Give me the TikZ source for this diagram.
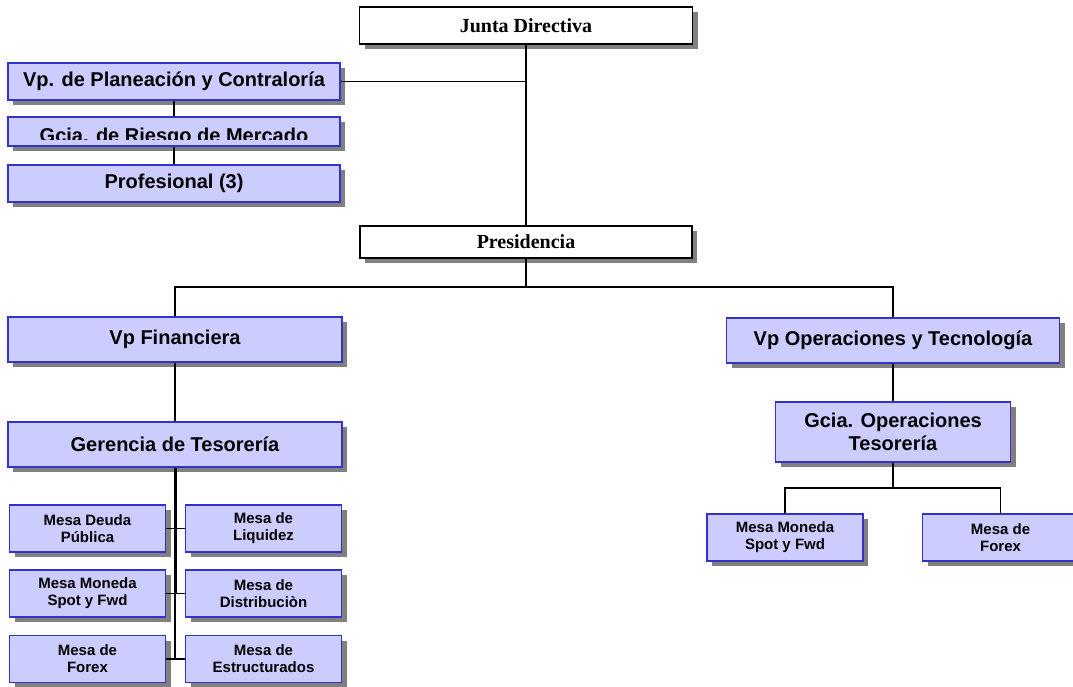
\documentclass[tikz,border=0pt]{standalone}
\usepackage{fontspec}
\setmainfont{Liberation Serif}
\setsansfont{Liberation Sans}
\usepackage{tikz}
\usepackage{xcolor}
\usetikzlibrary{positioning,shadows}

\definecolor{unitfill}{HTML}{CCCCFF}
\definecolor{unitline}{HTML}{3333CC}
\definecolor{shadowgray}{HTML}{808080}

\begin{document}
\begin{tikzpicture}[x=1pt,y=-1pt,
    sh/.style={drop shadow={shadow xshift=5pt, shadow yshift=-5pt, fill=shadowgray, opacity=1}},
    board/.style={rectangle, draw=black, fill=white, line width=1.4pt, sh, font=\rmfamily\bfseries\fontsize{20}{22}\selectfont},
    unit/.style={rectangle, draw=unitline, fill=unitfill, line width=1.5pt, sh, align=center, font=\sffamily\bfseries\fontsize{20}{23}\selectfont},
    desk/.style={unit, minimum width=156pt, minimum height=47pt, font=\sffamily\bfseries\fontsize{15}{17}\selectfont},
    link/.style={line width=1.5pt}]
        \useasboundingbox (0,0) rectangle (1073,686);

        % Top level
        \node[board, minimum width=333pt, minimum height=37pt] (junta) at (526,25.5) {Junta Directiva};
        \node[board, minimum width=332pt, minimum height=32pt] (pres) at (526,242) {Presidencia};

        % Planning branch
        \node[unit, minimum width=332pt, minimum height=37pt] (vpplan) at (174,81.5) {Vp. de Planeación y Contraloría};
        \node[unit, minimum width=332pt, minimum height=29pt] (riesgo) at (174,131.5) {};
        \begin{scope}
          \clip (10,118) rectangle (338,139.5);
          \node[anchor=base, font=\sffamily\bfseries\fontsize{20}{23}\selectfont] (riesgotxt) at (174,142.3) {Gcia. de Riesgo de Mercado};
        \end{scope}
        \node[unit, minimum width=332pt, minimum height=37pt] (prof) at (174,183.5) {Profesional (3)};

        % Vice presidencies
        \node[unit, minimum width=334pt, minimum height=45pt] (vpfin) at (175,339.5) {Vp Financiera};
        \node[unit, minimum width=334pt, minimum height=45pt] (geren) at (175,444.5) {Gerencia de Tesorería};
        \node[unit, minimum width=333pt, minimum height=45pt] (vpop) at (893,340.5) {Vp Operaciones y Tecnología};
        \node[unit, minimum width=235pt, minimum height=60pt] (gciaop) at (893,432) {Gcia. Operaciones\\Tesorería};

        % Treasury desks
        \node[desk] (deuda) at (87.5,528.5) {Mesa Deuda\\Pública};
        \node[desk] (liquidez) at (263.5,528.5) {Mesa de\\Liquidez};
        \node[desk] (moneda) at (87.5,593.5) {Mesa Moneda\\Spot y Fwd};
        \node[desk] (distrib) at (263.5,593.5) {Mesa de\\Distribuciòn};
        \node[desk] (forex) at (87.5,659) {Mesa de\\Forex};
        \node[desk] (estruct) at (263.5,659) {Mesa de\\Estructurados};

        % Operations desks
        \node[desk] (opmoneda) at (785,537.5) {Mesa Moneda\\Spot y Fwd};
        \node[desk] (opforex) at (1000.5,537.5) {Mesa de\\Forex};

        \coordinate (bus) at (526,287);
        \coordinate (opbus) at (893,488);

        % Connectors
        \draw[link] (junta.south) -- (pres.north);
        \draw[link] (vpplan.east) -- (vpplan.east -| junta.south);
        \draw[link] (vpplan.south) -- (riesgo.north);
        \draw[link] (riesgo.south) -- (prof.north);
        \draw[link] (pres.south) -- (bus);
        \draw[link] (vpfin.north) |- (bus) -| (vpop.north);
        \draw[link] (vpfin.south) -- (geren.north);
        \draw[line width=3pt] (geren.south) -- (geren.south |- moneda.east);
        \draw[link] (geren.south |- moneda.east) -- (geren.south |- forex.east);
        \draw[link] (deuda.east) -- (liquidez.west);
        \draw[link] (moneda.east) -- (distrib.west);
        \draw[link] (forex.east) -- (estruct.west);
        \draw[link] (vpop.south) -- (gciaop.north);
        \draw[link] (gciaop.south) -- (opbus);
        \draw[link] (opmoneda.north) |- (opbus) -| (opforex.north);
      \end{tikzpicture}
\end{document}
